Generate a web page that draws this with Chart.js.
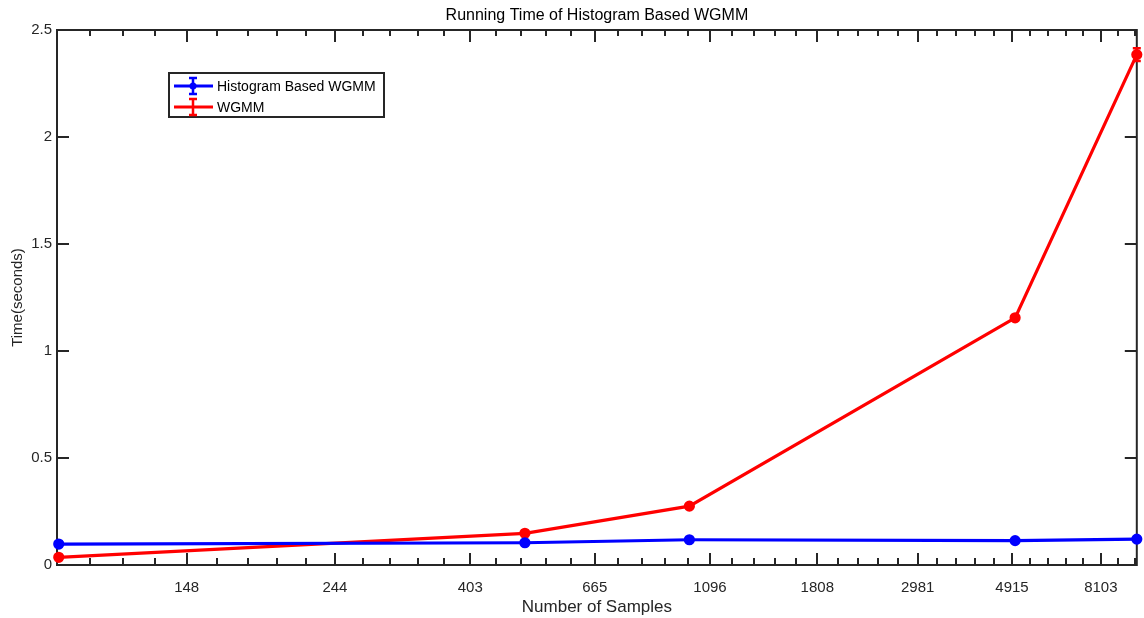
<!DOCTYPE html>
<html>
<head>
<meta charset="utf-8">
<script src="https://cdn.jsdelivr.net/npm/chart.js@4.4.0/dist/chart.umd.min.js"></script>
<style>
  html, body { margin: 0; padding: 0; background: #fff; }
  #wrap { width: 1144px; height: 618px; }
</style>
</head>
<body>
<div id="wrap"><canvas id="c"></canvas></div>
<script>
// number of samples and measured running times (seconds)
const samples = [100, 500, 1000, 5000, 10000]
const histTime = [0.098, 0.104, 0.118, 0.114, 0.121]
const histErr = [0.006, 0.005, 0.006, 0.006, 0.006]
const wgmmTime = [0.036, 0.148, 0.275, 1.155, 2.385]
const wgmmErr = [0.006, 0.008, 0.008, 0.010, 0.030]

// x axis is ln(samples) on a log scale, labelled with exp(tick)
const tickLogN = [5, 5.5, 6, 6.5, 7, 7.5, 8, 8.5, 9]
const tickLabels = ['148', '244', '403', '665', '1096', '1808', '2981', '4915', '8103']
const yTicks = [0, 0.5, 1, 1.5, 2, 2.5]

const AXIS = '#262626'
const FONT = '"Liberation Sans", Arial, sans-serif'

const toPoints = (ys) => samples.map((n, i) => ({ x: Math.log(n), y: ys[i] }))

const matlabAxes = {
  id: 'matlabAxes',
  beforeDatasetsDraw(chart) {
    const { ctx, chartArea: a, scales: { x, y } } = chart
    ctx.save()
    ctx.strokeStyle = AXIS
    ctx.lineWidth = 2
    ctx.beginPath()
    // minor x ticks every 0.1 in ln(n)
    for (let k = 47; k <= 92; k++) {
      const px = Math.round(x.getPixelForValue(k / 10))
      ctx.moveTo(px, a.bottom); ctx.lineTo(px, a.bottom - (k % 5 === 0 ? 12 : 7))
      ctx.moveTo(px, a.top); ctx.lineTo(px, a.top + (k % 5 === 0 ? 12 : 6))
    }
    yTicks.forEach((v) => {
      const py = Math.round(y.getPixelForValue(v))
      ctx.moveTo(a.left, py); ctx.lineTo(a.left + 12, py)
      ctx.moveTo(a.right, py); ctx.lineTo(a.right - 12, py)
    })
    ctx.stroke()
    ctx.strokeRect(a.left, a.top, a.right - a.left, a.bottom - a.top)
    ctx.restore()
  },
}

const errorBars = {
  id: 'errorBars',
  afterDatasetsDraw(chart) {
    const { ctx, scales: { y } } = chart
    ctx.save()
    chart.data.datasets.forEach((ds, i) => {
      const meta = chart.getDatasetMeta(i)
      ctx.strokeStyle = ds.borderColor
      ctx.lineWidth = 2.5
      meta.data.forEach((pt, j) => {
        const v = ds.data[j].y
        const top = y.getPixelForValue(v + ds.errors[j])
        const bot = y.getPixelForValue(v - ds.errors[j])
        ctx.beginPath()
        ctx.moveTo(pt.x, top); ctx.lineTo(pt.x, bot)
        ctx.moveTo(pt.x - 4, top); ctx.lineTo(pt.x + 4, top)
        ctx.moveTo(pt.x - 4, bot); ctx.lineTo(pt.x + 4, bot)
        ctx.stroke()
      })
    })
    ctx.restore()
  },
}

const errLegend = {
  id: 'errLegend',
  afterDraw(chart) {
    const { ctx } = chart
    const box = { x: 169, y: 73, w: 215, h: 44 }
    ctx.save()
    ctx.fillStyle = '#fff'
    ctx.fillRect(box.x, box.y, box.w, box.h)
    ctx.strokeStyle = AXIS
    ctx.lineWidth = 2
    ctx.strokeRect(box.x, box.y, box.w, box.h)
    chart.data.datasets.forEach((ds, i) => {
      const cy = box.y + 13 + i * 21
      ctx.strokeStyle = ds.borderColor
      ctx.lineWidth = 3
      ctx.beginPath()
      ctx.moveTo(174, cy); ctx.lineTo(213, cy)
      ctx.stroke()
      ctx.lineWidth = 2.5
      ctx.beginPath()
      ctx.moveTo(193, cy - 8); ctx.lineTo(193, cy + 8)
      ctx.moveTo(189, cy - 8); ctx.lineTo(197, cy - 8)
      ctx.moveTo(189, cy + 8); ctx.lineTo(197, cy + 8)
      ctx.stroke()
      if (i === 0) {
        ctx.fillStyle = ds.borderColor
        ctx.beginPath()
        ctx.arc(193, cy, 3.5, 0, Math.PI * 2)
        ctx.fill()
      }
      ctx.fillStyle = '#000'
      ctx.font = '14px ' + FONT
      ctx.textBaseline = 'middle'
      ctx.fillText(ds.label, 217, cy + 1)
    })
    ctx.restore()
  },
}

new Chart(document.getElementById('c'), {
  type: 'scatter',
  data: {
    datasets: [
      {
        label: 'Histogram Based WGMM',
        data: toPoints(histTime),
        errors: histErr,
        showLine: true,
        borderColor: '#0000ff',
        backgroundColor: '#0000ff',
        borderWidth: 3.2,
        pointRadius: 4,
        pointHoverRadius: 4,
        clip: false,
      },
      {
        label: 'WGMM',
        data: toPoints(wgmmTime),
        errors: wgmmErr,
        showLine: true,
        borderColor: '#ff0000',
        backgroundColor: '#ff0000',
        borderWidth: 3.2,
        pointRadius: 4,
        pointHoverRadius: 4,
        clip: false,
      },
    ],
  },
  options: {
    responsive: true,
    maintainAspectRatio: false,
    animation: false,
    layout: { padding: { top: 0, right: 6, left: 0, bottom: 0 } },
    plugins: {
      legend: { display: false },
      tooltip: { enabled: false },
      title: {
        display: true,
        fullSize: false,
        text: 'Running Time of Histogram Based WGMM',
        color: '#000',
        font: { family: FONT, size: 16, weight: 'normal', lineHeight: 1.2 },
        padding: { top: 6, bottom: 4.8 },
      },
    },
    scales: {
      x: {
        type: 'logarithmic',
        min: Math.log(samples[0]),
        max: Math.log(samples[samples.length - 1]),
        grid: { display: false, drawTicks: false },
        border: { display: false },
        afterBuildTicks: (scale) => { scale.ticks = tickLogN.map((v) => ({ value: v })) },
        afterFit: (scale) => { scale.height = 53 },
        ticks: {
          autoSkip: false,
          maxRotation: 0,
          padding: 14,
          color: AXIS,
          font: { family: FONT, size: 15 },
          callback: (v, i) => tickLabels[i],
        },
        title: {
          display: true,
          text: 'Number of Samples',
          color: AXIS,
          font: { family: FONT, size: 17 },
          padding: { top: 0, bottom: 0 },
        },
      },
      y: {
        min: 0,
        max: 2.5,
        grid: { display: false, drawTicks: false },
        border: { display: false },
        afterBuildTicks: (scale) => { scale.ticks = yTicks.map((v) => ({ value: v })) },
        afterFit: (scale) => { scale.width = 57 },
        ticks: {
          padding: 5,
          color: AXIS,
          font: { family: FONT, size: 15 },
          callback: (v) => String(v),
        },
        title: {
          display: true,
          text: 'Time(seconds)',
          color: AXIS,
          font: { family: FONT, size: 15 },
          padding: { top: 9, bottom: 0 },
        },
      },
    },
  },
  plugins: [matlabAxes, errorBars, errLegend],
})
</script>
</body>
</html>
